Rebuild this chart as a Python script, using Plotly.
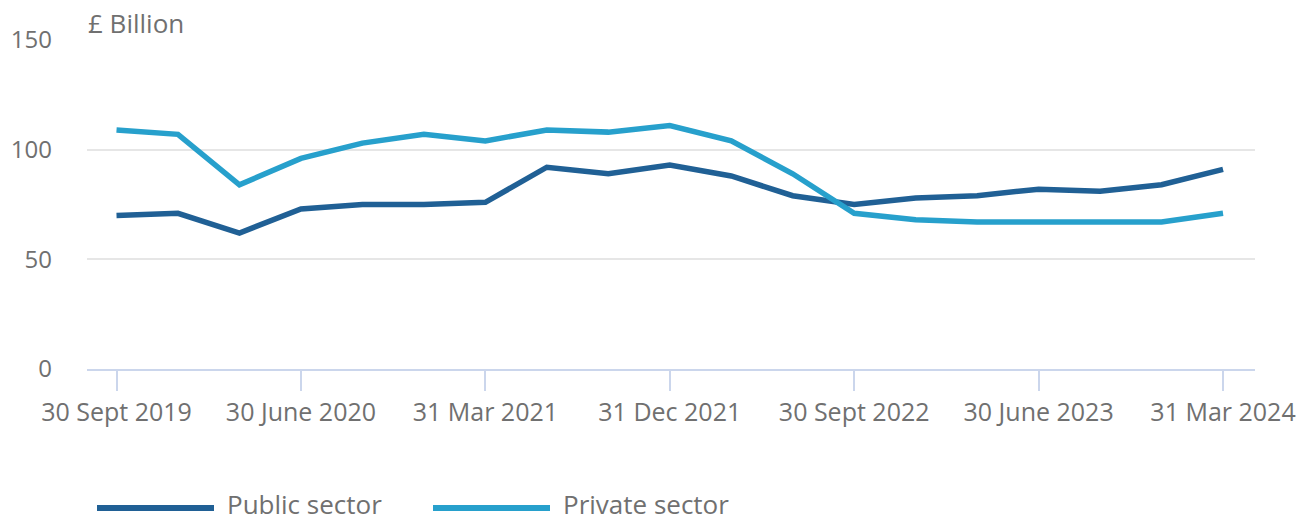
import plotly.graph_objects as go

quarters = ["30 Sept 2019", "31 Dec 2019", "31 Mar 2020", "30 June 2020", "30 Sept 2020",
            "31 Dec 2020", "31 Mar 2021", "30 June 2021", "30 Sept 2021", "31 Dec 2021",
            "31 Mar 2022", "30 June 2022", "30 Sept 2022", "31 Dec 2022", "31 Mar 2023",
            "30 June 2023", "30 Sept 2023", "31 Dec 2023", "31 Mar 2024"]
public_sector = [70, 71, 62, 73, 75, 75, 76, 92, 89, 93, 88, 79, 75, 78, 79, 82, 81, 84, 91]
private_sector = [109, 107, 84, 96, 103, 107, 104, 109, 108, 111, 104, 89, 71, 68, 67, 67, 67, 67, 71]
tick_labels = ["30 Sept 2019", "30 June 2020", "31 Mar 2021", "31 Dec 2021",
               "30 Sept 2022", "30 June 2023", "31 Mar 2024"]
y_ticks = [0, 50, 100, 150]

series = [("Public sector", public_sector, "#206095"),
          ("Private sector", private_sector, "#27a0cc")]

FONT = "Open Sans"
GREY = "#707070"

fig = go.Figure()
for name, vals, col in series:
    fig.add_trace(go.Scatter(x=quarters, y=vals, mode="lines", name=name,
                             line=dict(color=col, width=5.5), showlegend=False))

L, R, T, B = 87, 45, 39.5, 154.5
W, H = 1300, 524
pw, ph = W - L - R, H - T - B

fig.update_layout(
    width=W, height=H,
    margin=dict(l=L, r=R, t=T, b=B),
    paper_bgcolor="white", plot_bgcolor="white",
    font=dict(family=FONT, color=GREY, size=24),
)
fig.update_xaxes(
    type="category", range=[-0.48, 18.52], automargin=False,
    tickmode="array", tickvals=tick_labels, ticktext=tick_labels,
    ticks="outside", ticklen=20, tickwidth=2, tickcolor="#cbd6ec",
    showline=True, linecolor="#cbd6ec", linewidth=2,
    showgrid=False, zeroline=False,
    tickfont=dict(size=25, color=GREY, family=FONT),
)
fig.update_yaxes(
    range=[0, 150], tickvals=y_ticks, automargin=False,
    showgrid=True, gridcolor="#e6e6e6", gridwidth=2,
    zeroline=False, showline=False, ticks="",
    ticklabelstandoff=34,
    tickfont=dict(size=24, color=GREY, family=FONT),
)

fig.add_annotation(text="£ Billion", xref="paper", yref="paper",
                   x=(86 - L) / pw, y=(H - B - 22) / ph, xanchor="left", yanchor="middle",
                   showarrow=False, font=dict(size=26, color=GREY, family=FONT))

# custom legend
leg_y = (H - B - 509) / ph
txt_y = (H - B - 505) / ph
starts = [97, 433]
for (name, vals, col), sx in zip(series, starts):
    fig.add_shape(type="line", xref="paper", yref="paper",
                  x0=(sx - L) / pw, x1=(sx + 117 - L) / pw, y0=leg_y, y1=leg_y,
                  line=dict(color=col, width=6))
    fig.add_annotation(text=name, xref="paper", yref="paper",
                       x=(sx + 128 - L) / pw, y=txt_y, xanchor="left", yanchor="middle",
                       showarrow=False, font=dict(size=26, color=GREY, family=FONT))

fig.write_html("out.html")
